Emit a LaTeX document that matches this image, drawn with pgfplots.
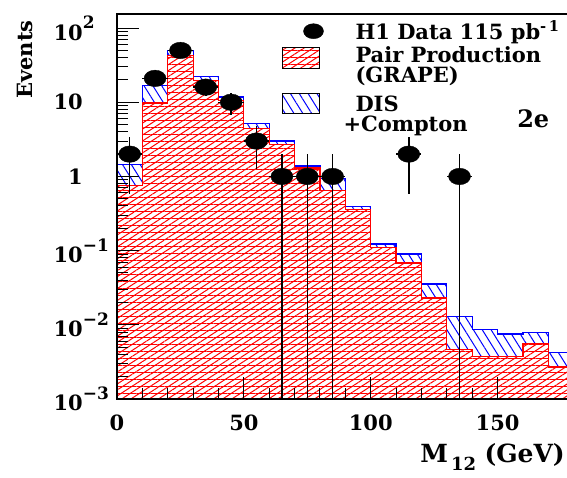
\documentclass[border=0pt]{standalone}
\usepackage{fontspec}
\setmainfont{DejaVu Serif}
\usepackage{pgfplots}
\pgfplotsset{compat=1.18}
\usetikzlibrary{patterns.meta}

\newcommand{\sups}[1]{\rlap{\raisebox{0.55em}{\fontsize{17}{17}\selectfont #1}}}
\tikzset{
  redfill/.style={fill=white,
    postaction={pattern color=red, pattern={Lines[angle=0,distance=7pt,line width=1pt]}},
    postaction={pattern color=red, pattern={Lines[angle=33,distance=5pt,line width=1pt]}}},
  bluefill/.style={fill=white,
    postaction={pattern color=blue, pattern={Lines[angle=-58,distance=7.5pt,line width=1pt]}}}
}

\begin{document}
\begin{tikzpicture}
\begin{axis}[
  at={(0pt,0pt)}, anchor=south west,
  scale only axis, width=456.7pt, height=385pt,
  xmin=0, xmax=180, ymin=1e-3, ymax=155, ymode=log,
  axis on top, axis line style={line width=1.3pt},
  tick pos=left, tick align=inside,
  xtick={0,50,100,150}, xticklabels={0,50,100,150}, minor x tick num=4,
  ytick={1e-3,1e-2,1e-1,1,10,100},
  yticklabels={10\sups{−3},10\sups{−2},10\sups{−1},1,10,10\sups{2}},
  minor ytick={2e-3,3e-3,4e-3,5e-3,6e-3,7e-3,8e-3,9e-3,
               2e-2,3e-2,4e-2,5e-2,6e-2,7e-2,8e-2,9e-2,
               0.2,0.3,0.4,0.5,0.6,0.7,0.8,0.9,
               2,3,4,5,6,7,8,9,20,30,40,50,60,70,80,90},
  major tick length=22pt, minor tick length=11pt,
  every tick/.style={black, line width=1pt},
  xticklabel style={font=\fontsize{21}{21}\selectfont\bfseries, anchor=north, inner sep=0pt, yshift=-16pt},
  yticklabel style={font=\fontsize{21}{21}\selectfont\bfseries, anchor=east, inner sep=0pt, xshift=-34pt},
  xlabel={M\raisebox{-0.3em}{\fontsize{18}{18}\selectfont\,12}\,\,(GeV)},
  xlabel style={at={(axis description cs:0.981,-0.165)}, anchor=base east, font=\fontsize{25}{25}\selectfont\bfseries, inner sep=0pt},
  ylabel={Events},
  ylabel style={at={(axis description cs:-0.2014,0.984)}, rotate=0, anchor=east, font=\fontsize{21}{21}\selectfont\bfseries, inner sep=0pt},
  legend style={at={(axis description cs:0,1)}, anchor=north west, xshift=165pt, yshift=-9.5pt,
    draw=none, fill=none, inner sep=0pt, outer sep=0pt, row sep=0pt, column sep=0pt,
    nodes={inner sep=0pt, text height=12pt, text depth=5pt, font=\fontsize{21}{21}\selectfont\bfseries},
    cells={anchor=base west}},
]
% total: GRAPE + DIS + Compton
\addplot[forget plot, const plot mark left, draw=blue, line width=1.2pt, bluefill] coordinates {
(0,1e-4) (0,1.45) (10,17) (20,50) (30,22.4) (40,11.8) (50,5.2) (60,3.0) (70,1.38) (80,0.93)
(90,0.39) (100,0.123) (110,0.090) (120,0.0355) (130,0.0129) (140,0.0087) (150,0.0075)
(160,0.0079) (170,0.0042) (180,0.0042) (180,1e-4)} -- cycle;
% GRAPE
\addplot[forget plot, const plot mark left, draw=red, line width=1.2pt, redfill] coordinates {
(0,1e-4) (0,0.76) (10,9.8) (20,43) (30,19.8) (40,10.6) (50,4.4) (60,2.7) (70,1.3) (80,0.65)
(90,0.355) (100,0.111) (110,0.068) (120,0.023) (130,0.0046) (140,0.0037) (150,0.0037)
(160,0.0056) (170,0.0027) (180,0.0027) (180,1e-4)} -- cycle;
% data
\addplot[forget plot, only marks, black, mark=*, mark size=11pt,
  mark options={yscale=0.75, fill=black, draw=black},
  error bars/.cd, y dir=both, y explicit, x dir=both, x explicit, error mark=none,
  error bar style={line width=1.5pt, black}] coordinates {
(5,2) += (5,1.414) -= (5,1.414)
(15,21) += (5,4.58) -= (5,4.58)
(25,50) += (5,7.07) -= (5,7.07)
(35,16) += (5,4) -= (5,4)
(45,10) += (5,3.16) -= (5,3.16)
(55,3) += (5,1.73) -= (5,1.73)
(65,1) += (5,1) -= (5,0.9999)
(75,1) += (5,1) -= (5,0.9999)
(85,1) += (5,1) -= (5,0.9999)
(115,2) += (5,1.414) -= (5,1.414)
(135,1) += (5,1) -= (5,0.9999)
};
\addlegendimage{legend image code/.code={\path[draw=none,fill=none] (0pt,-8pt) rectangle (73pt,15.5pt); \fill[black] (31pt,8pt) ellipse [x radius=10pt, y radius=7.5pt];}}
\addlegendentry{H1 Data 115 pb\textsuperscript{-\,1}}
\addlegendimage{legend image code/.code={\path[draw=none,fill=none] (0pt,0pt) -- (73pt,0pt); \draw[black, line width=1pt, redfill] (0pt,-6pt) rectangle (37pt,15pt);}}
\addlegendentry{Pair Production}
\addlegendimage{legend image code/.code={\path[draw=none,fill=none] (0pt,-11pt) rectangle (73pt,13pt);}}
\addlegendentry{(GRAPE)}
\addlegendimage{legend image code/.code={\path[draw=none,fill=none] (0pt,0pt) -- (73pt,0pt); \draw[black, line width=1pt, bluefill] (0pt,-2pt) rectangle (37pt,18pt);}}
\addlegendentry{DIS}
\addlegendimage{legend image code/.code={\path[draw=none,fill=none] (0pt,-5pt) rectangle (73pt,15pt);}}
\addlegendentry{\hspace*{-12pt}+Compton}
\node[anchor=base west, font=\fontsize{24}{24}\selectfont\bfseries, inner sep=0pt] at (axis description cs:0.876,0.704) {2e};
\end{axis}
\pgfresetboundingbox
\useasboundingbox (-117pt,-79pt) rectangle (450pt,399pt);
\end{tikzpicture}
\end{document}
